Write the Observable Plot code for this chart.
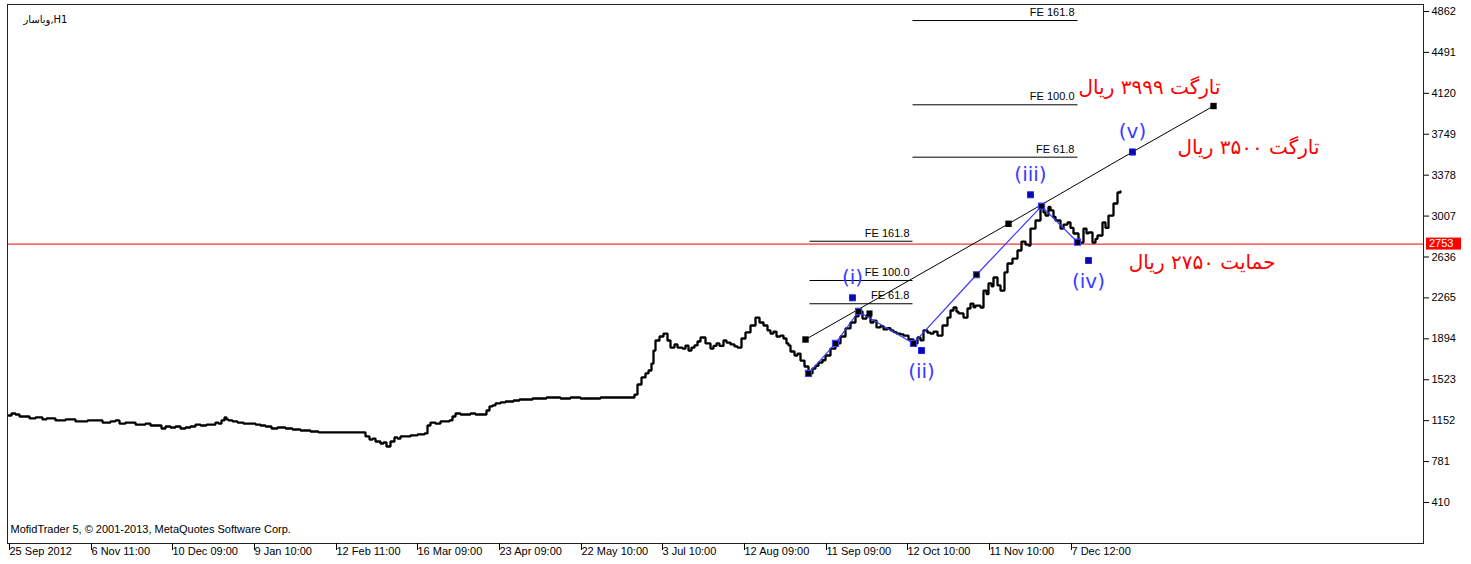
<!DOCTYPE html>
<html><head><meta charset="utf-8">
<script src="https://cdn.jsdelivr.net/npm/d3@7"></script>
<script src="https://cdn.jsdelivr.net/npm/@observablehq/plot@0.6"></script>
<style>body{margin:0;background:#fff;}</style>
</head><body><div id="chart"></div>
<script>
// ---- data ----
const symbolLabel = "ویاسار,H1";
const copyright = "MofidTrader 5, © 2001-2013, MetaQuotes Software Corp.";
const tickBars = [0, 82, 163, 245, 327, 408, 490, 572, 653, 735, 817, 898, 980, 1062];
const tickLabels = ["25 Sep 2012","6 Nov 11:00","10 Dec 09:00","9 Jan 10:00","12 Feb 11:00","16 Mar 09:00","23 Apr 09:00","22 May 10:00","3 Jul 10:00","12 Aug 09:00","11 Sep 09:00","12 Oct 10:00","11 Nov 10:00","7 Dec 12:00"];
const yTicks = [410, 781, 1152, 1523, 1894, 2265, 2636, 3007, 3378, 3749, 4120, 4491, 4862];

const priceBar = [1,4,8,12,18,22,28,35,39,43,48,53,58,63,68,73,80,88,95,103,108,112,118,123,128,133,138,143,148,154,158,163,168,173,178,183,188,193,199,205,208,211,214,217,219,221,225,230,236,243,248,253,258,264,270,278,285,293,298,303,307,311,322,333,344,355,358,362,365,368,373,376,379,383,387,390,393,398,403,410,417,420,423,428,433,437,442,445,448,453,458,463,468,472,476,479,482,485,488,493,498,502,506,512,518,525,533,539,544,553,563,573,583,593,603,613,624,627,630,634,638,641,644,646,648,652,656,660,663,667,670,675,678,681,684,687,690,693,698,703,706,709,712,716,719,723,727,730,734,738,743,748,752,756,760,763,766,769,773,776,779,781,783,787,790,793,797,801,805,808,811,815,818,823,828,833,838,843,848,851,855,859,863,866,869,873,876,880,883,886,889,893,896,901,906,910,913,916,920,923,926,930,935,940,943,946,949,951,956,960,963,966,968,973,976,979,981,984,986,990,993,997,1000,1005,1010,1014,1018,1021,1023,1028,1033,1036,1038,1041,1043,1046,1048,1053,1056,1060,1063,1066,1071,1076,1079,1081,1085,1088,1090,1095,1098,1101,1106,1110,1113];
const priceValue = [1199,1217,1208,1190,1190,1172,1181,1163,1172,1172,1154,1154,1163,1163,1145,1145,1154,1154,1135,1145,1154,1126,1135,1135,1117,1117,1126,1108,1108,1081,1099,1090,1099,1081,1090,1099,1117,1108,1117,1117,1135,1126,1154,1181,1163,1154,1145,1135,1126,1126,1117,1108,1099,1081,1090,1081,1072,1063,1063,1054,1054,1045,1045,1045,1045,1045,1009,981,990,963,945,954,918,963,1000,990,1009,1009,1018,1027,1036,1108,1135,1126,1145,1145,1154,1190,1217,1208,1208,1217,1208,1208,1208,1244,1281,1290,1308,1317,1326,1326,1335,1344,1344,1353,1353,1362,1362,1353,1362,1353,1353,1362,1362,1362,1362,1389,1480,1544,1580,1607,1670,1788,1879,1915,1942,1879,1815,1843,1815,1806,1833,1788,1815,1834,1870,1906,1852,1806,1830,1852,1830,1879,1860,1843,1825,1815,1897,1952,2015,2087,2042,2015,1970,1942,1960,1915,1924,1897,1852,1834,1779,1743,1760,1697,1643,1580,1625,1650,1679,1700,1743,1806,1852,1915,1988,2042,2097,2142,2078,2106,2042,2060,1997,2010,1979,1990,1970,1955,1942,1935,1924,1888,1852,1906,1880,1970,1950,1942,1960,1924,2015,2087,2151,2178,2140,2124,2087,2169,2214,2180,2196,2178,2332,2300,2396,2370,2450,2378,2332,2496,2577,2622,2695,2776,2749,2740,2894,2967,3085,3040,3012,3090,3058,3000,2967,2894,2930,2949,2900,2849,2767,2894,2850,2858,2767,2800,2831,2949,2900,3012,3121,3221,3230];

const waveLineBars = [801, 828, 851, 906, 969, 1034, 1070];
const waveLinePrices = [1580, 1852, 2142, 1852, 2475, 3097, 2770];
const trendBars = [798, 1001, 1125, 1206];
const trendPrices = [1888, 2937, 3588, 4005];
const extraBars = [862];
const extraPrices = [2124];

const waveLabels = ["(i)","(ii)","(iii)","(iv)","(v)"];
const waveBars = [845, 914, 1023, 1081, 1125];
const wavePrices = [2266, 1788, 3200, 2604, 3588];

const feLabels = ["FE 61.8","FE 100.0","FE 161.8"];
const fe1Prices = [2212, 2423, 2779];
const fe1Bars = [802, 905];
const fe2Prices = [3541, 4016, 4780];
const fe2Bars = [905, 1070];

const supportLevel = 2753;
const notes = ["تارگت ۳۹۹۹ ریال", "تارگت ۳۵۰۰ ریال", "حمایت ۲۷۵۰ ریال"];
const noteBars = [1213, 1312, 1268];
const notePrices = [4176, 3629, 2589];

// ---- build tables ----
const price = priceBar.map((b, i) => ({bar: b, price: priceValue[i]}));
const waveLine = waveLineBars.map((b, i) => ({bar: b, price: waveLinePrices[i]}));
const trend = trendBars.map((b, i) => ({bar: b, price: trendPrices[i]}));
const extra = extraBars.map((b, i) => ({bar: b, price: extraPrices[i]}));
const waves = waveLabels.map((l, i) => ({label: l, bar: waveBars[i], price: wavePrices[i], up: i % 2 === 0}));
const fe = [
  ...feLabels.map((l, i) => ({label: l, x1: fe1Bars[0], x2: fe1Bars[1], price: fe1Prices[i]})),
  ...feLabels.map((l, i) => ({label: l, x1: fe2Bars[0], x2: fe2Bars[1], price: fe2Prices[i]}))
];
const noteData = notes.map((t, i) => ({text: t, bar: noteBars[i], price: notePrices[i]}));

const blue = "#3a3aff";
const plot = Plot.plot({
  width: 1471, height: 564,
  marginLeft: 7, marginRight: 48, marginTop: 4, marginBottom: 21,
  style: {fontFamily: "Liberation Sans, sans-serif", fontSize: "11px", background: "#fff", color: "#000"},
  x: {domain: [0, 1416], axis: null},
  y: {domain: [38.3, 4925.4], axis: null},
  marks: [
    Plot.ruleY([supportLevel], {stroke: "#ff0000", strokeWidth: 1}),
    Plot.link(fe, {x1: "x1", x2: "x2", y1: "price", y2: "price", stroke: "#000", strokeWidth: 1}),
    Plot.text(fe, {x: "x2", y: "price", text: "label", textAnchor: "end", dx: -3, dy: -8, fill: "#000"}),
    Plot.line(price, {x: "bar", y: "price", stroke: "#000", strokeWidth: 2.3, strokeLinejoin: "miter", curve: "step-after"}),
    Plot.line(trend, {x: "bar", y: "price", stroke: "#000", strokeWidth: 1}),
    Plot.line(waveLine, {x: "bar", y: "price", stroke: blue, strokeWidth: 1.2}),
    Plot.dot(trend, {x: "bar", y: "price", symbol: "square", r: 3.6, fill: "#000", stroke: "none"}),
    Plot.dot(extra, {x: "bar", y: "price", symbol: "square", r: 3.4, fill: "#000", stroke: "none"}),
    Plot.dot(waveLine, {x: "bar", y: "price", symbol: "square", r: 3.4, fill: "#000", stroke: blue, strokeWidth: 1.2}),
    Plot.dot(waves, {x: "bar", y: "price", symbol: "square", r: 3.4, fill: "#0a0aa8", stroke: "#2020ff", strokeWidth: 1}),
    Plot.text(waves.filter(d => d.up), {x: "bar", y: "price", text: "label", dy: -20, fill: blue, fontSize: 20, fontFamily: "DejaVu Sans"}),
    Plot.text(waves.filter(d => !d.up), {x: "bar", y: "price", text: "label", dy: 21, fill: blue, fontSize: 20, fontFamily: "DejaVu Sans"}),
    Plot.text(noteData, {x: "bar", y: "price", text: "text", textAnchor: "end", fill: "#ff0000", fontSize: 20, fontFamily: "DejaVu Sans"}),
    Plot.text([symbolLabel], {frameAnchor: "top-left", dx: 16, dy: 11, textAnchor: "start", fill: "#000", fontFamily: "DejaVu Sans", fontSize: 10}),
    Plot.text([copyright], {frameAnchor: "bottom-left", dx: 3, dy: -11, textAnchor: "start", fill: "#000"}),
    Plot.frame({stroke: "#222"}),
    Plot.axisY(yTicks, {anchor: "right", label: null, tickSize: 5, tickPadding: 3, tickFormat: d => String(d)}),
    Plot.axisX(tickBars, {anchor: "bottom", label: null, tickSize: 7, tickPadding: -3, textAnchor: "start", dx: 2,
      tickFormat: d => tickLabels[tickBars.indexOf(d)]})
  ]
});
document.getElementById("chart").appendChild(plot);

// red price label box on the right axis at the support level
const ys = plot.scale("y").apply(supportLevel);
const svg = d3.select(plot);
const g = svg.append("g");
g.append("rect").attr("x", 1426).attr("y", ys - 6).attr("width", 35).attr("height", 12).attr("fill", "#ff0000");
g.append("text").attr("x", 1429).attr("y", ys).attr("dy", "0.35em").attr("fill", "#fff")
  .attr("text-anchor", "start")
  .attr("font-family", "Liberation Sans, sans-serif").attr("font-size", 11).text(String(supportLevel));
</script>
</body></html>
